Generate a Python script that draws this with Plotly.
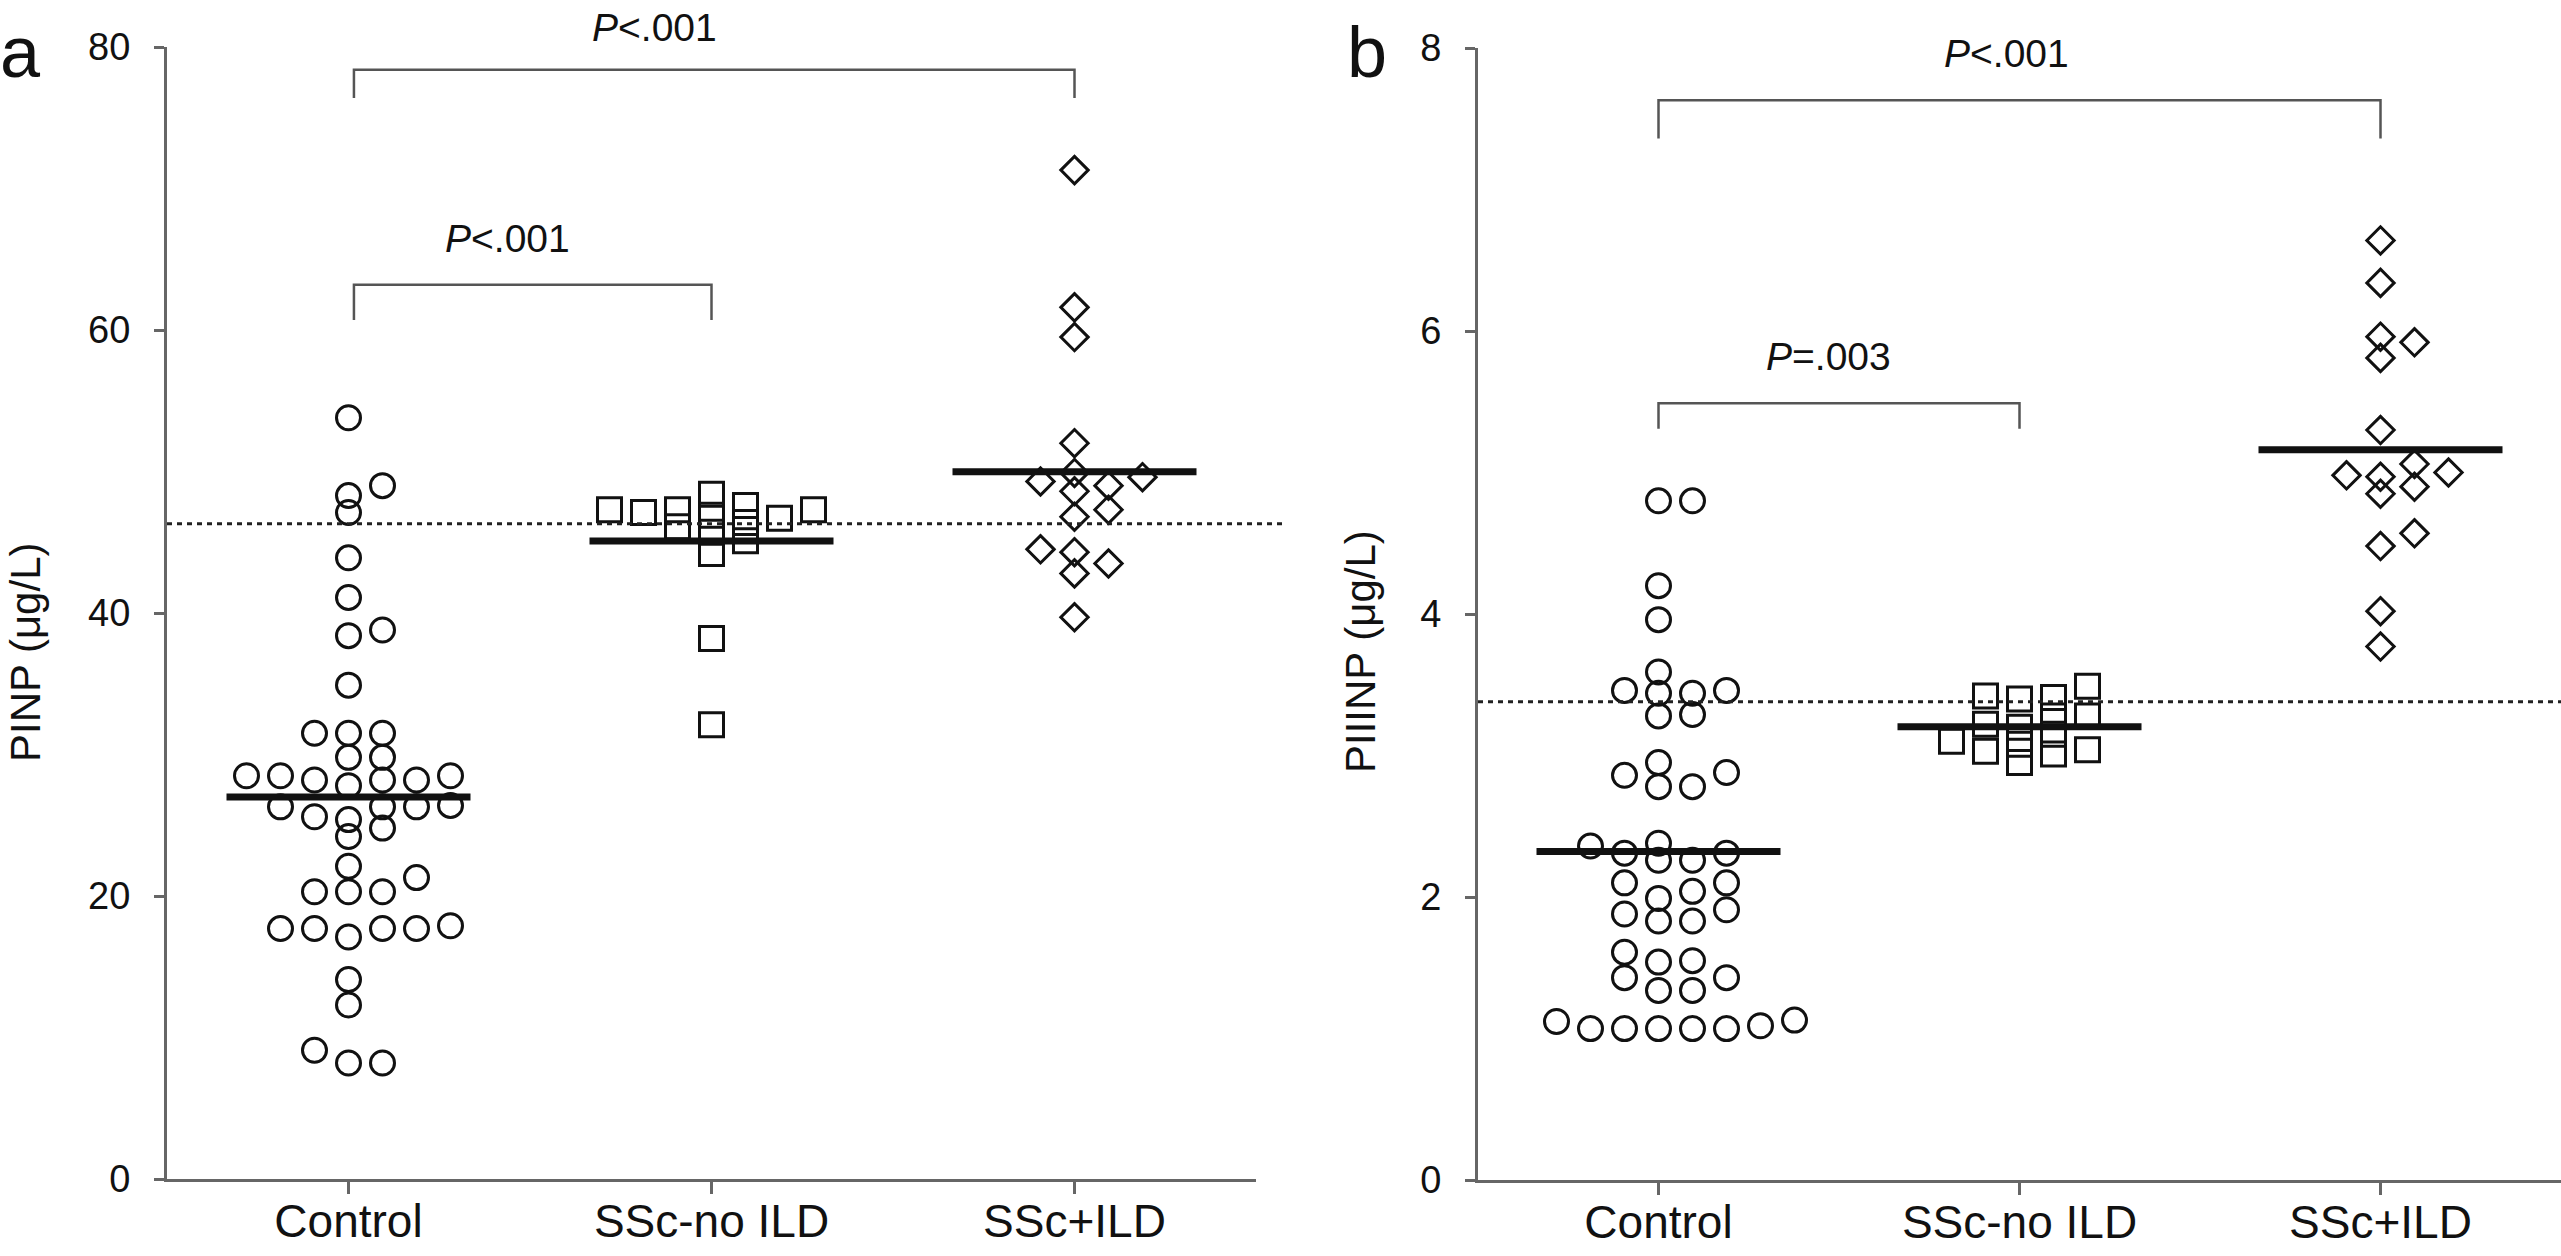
import numpy as np
import plotly.graph_objects as go

groups = ["Control", "SSc-no ILD", "SSc+ILD"]
symbols = ["circle-open", "square-open", "diamond-open"]

# panel a, PINP (ug/L)
pinp_control = [53.8, 49.0, 48.3, 47.1, 43.9, 41.1, 38.4, 38.8, 34.9,
                31.5, 31.5, 31.5, 29.8, 29.8, 28.5, 28.5, 28.5, 28.2, 28.2, 28.2, 27.8,
                26.3, 26.3, 26.3, 26.4, 25.4, 25.6, 24.8, 24.2, 22.1, 21.3,
                20.3, 20.3, 20.3, 17.7, 17.7, 17.7, 17.7, 17.9, 17.1,
                14.1, 12.3, 9.1, 8.2, 8.2]
pinp_ssc_no_ild = [47.1, 47.6, 46.9, 46.1, 47.3, 45.7, 47.3, 44.2, 38.2, 32.1,
                   47.3, 45.1, 48.4, 46.4, 46.7]
pinp_ssc_ild = [71.3, 61.6, 59.5, 52.0, 49.3, 48.6, 49.9, 49.0, 49.6, 46.8,
                47.3, 44.5, 43.5, 44.3, 42.8, 39.7]
pinp_cutoff = 46.3

# panel b, PIIINP (ug/L)
piiinp_control = [4.80, 4.80, 4.20, 3.96, 3.59, 3.46, 3.44, 3.44, 3.46, 3.28, 3.29,
                  2.88, 2.78, 2.78, 2.86, 2.95, 2.36, 2.31, 2.26, 2.26, 2.31, 2.38,
                  2.10, 2.04, 2.10, 1.99, 1.91, 1.83, 1.88, 1.83, 1.61, 1.55, 1.54,
                  1.43, 1.43, 1.34, 1.34, 1.12, 1.13, 1.07, 1.07, 1.07, 1.07, 1.07, 1.09]
piiinp_ssc_no_ild = [3.41, 3.28, 3.08, 3.22, 3.15, 3.03, 3.49, 3.20, 2.95, 3.28,
                     3.01, 3.40, 3.04, 3.42, 3.10]
piiinp_ssc_ild = [6.64, 6.34, 5.96, 5.92, 5.81, 5.30, 5.00, 4.97, 4.85, 4.90,
                  4.98, 5.06, 4.57, 4.48, 4.02, 3.77]
piiinp_cutoff = 3.38

W, H = 2561, 1256
AXIS_COLOR = "#666666"
FONT = "Liberation Sans, Arial, Helvetica, sans-serif"

xdom_a = [167 / W, 1256 / W]
xdom_b = [1478 / W, 1.0]
ydom_a = [(H - 1179) / H, (H - 47) / H]
ydom_b = [(H - 1180) / H, (H - 48) / H]


def swarm(values, px_per_unit, step=17.0, min_dx=30.0, min_dy=16.0):
    """Column-scatter offsets (in px): points that would touch are moved sideways."""
    values = np.asarray(values, dtype=float)
    order = np.argsort(values, kind="stable")
    cands = [0]
    for n in range(1, 30):
        cands += [n, -n]
    placed = []
    offsets = np.zeros(len(values))
    for i in order:
        y = values[i] * px_per_unit
        for c in cands:
            x = c * step
            if all(abs(x - px) >= min_dx or abs(y - py) >= min_dy for px, py in placed):
                break
        placed.append((x, y))
        offsets[i] = x
    return offsets


def add_panel(fig, data, xdom, ydom, yrange, xa, ya):
    y_px = H * (ydom[1] - ydom[0]) / (yrange[1] - yrange[0])
    x_px = W * (xdom[1] - xdom[0]) / 3.0
    for k, vals in enumerate(data):
        off = swarm(vals, y_px)
        fig.add_trace(go.Scatter(
            x=(k + 1) + off / x_px, y=vals, mode="markers",
            marker=dict(symbol=symbols[k], size=[24, 24, 21][k], color="#111111",
                        line=dict(width=3, color="#111111")),
            xaxis=xa, yaxis=ya, hoverinfo="y"))
        m = float(np.mean(vals))
        half = 122 / x_px
        fig.add_trace(go.Scatter(
            x=[k + 1 - half, k + 1 + half], y=[m, m], mode="lines",
            line=dict(color="#111111", width=7),
            xaxis=xa, yaxis=ya, hoverinfo="skip"))


def bracket(x0, x1, ytop, ydrop, xref, yref):
    return dict(type="path", xref=xref, yref=yref,
                path=f"M {x0},{ydrop} L {x0},{ytop} L {x1},{ytop} L {x1},{ydrop}",
                line=dict(color="#555555", width=2.5))


fig = go.Figure()
add_panel(fig, [pinp_control, pinp_ssc_no_ild, pinp_ssc_ild], xdom_a, ydom_a, [0, 80], "x", "y")
add_panel(fig, [piiinp_control, piiinp_ssc_no_ild, piiinp_ssc_ild], xdom_b, ydom_b, [0, 8], "x2", "y2")

xaxis_common = dict(range=[0.5, 3.5], tickvals=[1, 2, 3], ticktext=groups,
                    ticks="outside", ticklen=12, tickwidth=2.5, tickcolor=AXIS_COLOR,
                    showline=True, linecolor=AXIS_COLOR, linewidth=3,
                    showgrid=False, zeroline=False, automargin=False,
                    ticklabelstandoff=-12,
                    tickfont=dict(size=46, color="#111111"))
yaxis_common = dict(ticks="outside", ticklen=10, tickwidth=2.5, tickcolor=AXIS_COLOR,
                    showline=True, linecolor=AXIS_COLOR, linewidth=3,
                    showgrid=False, zeroline=False, ticklabelstandoff=16, automargin=False,
                    tickfont=dict(size=38, color="#111111"))

fig.update_layout(
    width=W, height=H, autosize=False,
    margin=dict(l=0, r=0, t=0, b=0, pad=0, autoexpand=False),
    paper_bgcolor="white", plot_bgcolor="white",
    showlegend=False,
    font=dict(family=FONT, color="#111111"),
    xaxis=dict(domain=xdom_a, anchor="y", **xaxis_common),
    yaxis=dict(domain=ydom_a, anchor="x", range=[0, 80], tickvals=[0, 20, 40, 60, 80],
               **yaxis_common),
    xaxis2=dict(domain=xdom_b, anchor="y2", **xaxis_common),
    yaxis2=dict(domain=ydom_b, anchor="x2", range=[0, 8], tickvals=[0, 2, 4, 6, 8],
                **yaxis_common),
)

dots = dict(color="#222222", width=3, dash="5px,5px")
fig.add_shape(type="line", xref="paper", yref="y", x0=xdom_a[0], x1=1285 / W,
              y0=pinp_cutoff, y1=pinp_cutoff, line=dots)
fig.add_shape(type="line", xref="paper", yref="y2", x0=xdom_b[0], x1=1.0,
              y0=piiinp_cutoff, y1=piiinp_cutoff, line=dots)

fig.add_shape(bracket(1.015, 3, 78.4, 76.4, "x", "y"))
fig.add_shape(bracket(1.015, 2, 63.2, 60.7, "x", "y"))
fig.add_shape(bracket(1, 3, 7.63, 7.36, "x2", "y2"))
fig.add_shape(bracket(1, 2, 5.49, 5.31, "x2", "y2"))

pfont = dict(size=39, color="#111111")
# top label of panel a sits above the y range, so it is placed on the paper
fig.add_annotation(x=1.843, y=(H - 28) / H, xref="x", yref="paper",
                   text="<i>P</i>&lt;.001", showarrow=False, font=pfont,
                   xanchor="center", yanchor="middle")
for x, y, txt, xr, yr in [(1.439, 66.5, "<i>P</i>&lt;.001", "x", "y"),
                          (1.963, 7.96, "<i>P</i>&lt;.001", "x2", "y2"),
                          (1.472, 5.82, "<i>P</i>=.003", "x2", "y2")]:
    fig.add_annotation(x=x, y=y, xref=xr, yref=yr, text=txt, showarrow=False,
                       font=pfont, xanchor="center", yanchor="middle")

# axis titles
fig.add_annotation(x=25 / W, y=(H - 652) / H, xref="paper", yref="paper",
                   text="PINP (μg/L)", textangle=-90, showarrow=False,
                   font=dict(size=42), xanchor="center", yanchor="middle")
fig.add_annotation(x=1360 / W, y=(H - 652) / H, xref="paper", yref="paper",
                   text="PIIINP (μg/L)", textangle=-90, showarrow=False,
                   font=dict(size=42), xanchor="center", yanchor="middle")

# panel letters
fig.add_annotation(x=20 / W, y=(H - 52) / H, xref="paper", yref="paper", text="a",
                   showarrow=False, font=dict(size=72), xanchor="center", yanchor="middle")
fig.add_annotation(x=1367 / W, y=(H - 52) / H, xref="paper", yref="paper", text="b",
                   showarrow=False, font=dict(size=72), xanchor="center", yanchor="middle")

# the page body must not add margins or scrollbars around the fixed-size figure
fig.write_html("out.html", config={"displayModeBar": False}, post_script=(
    "document.body.style.margin='0';"
    "document.body.style.overflow='hidden';"
    "document.documentElement.style.overflow='hidden';"))
